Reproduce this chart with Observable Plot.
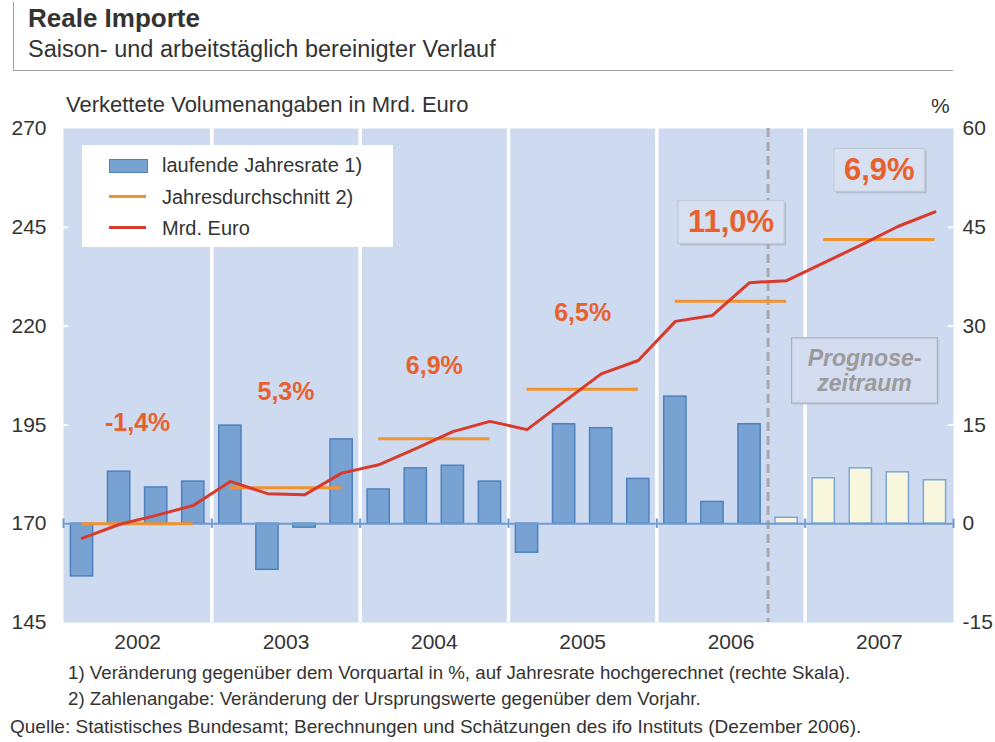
<!DOCTYPE html>
<html>
<head>
<meta charset="utf-8">
<script src="https://cdn.jsdelivr.net/npm/d3@7"></script>
<script src="https://cdn.jsdelivr.net/npm/@observablehq/plot@0.6"></script>
<style>
  html, body { margin: 0; padding: 0; background: #ffffff; }
  body { width: 995px; height: 742px; position: relative; overflow: hidden;
         font-family: "Liberation Sans", Arial, Helvetica, sans-serif; color: #333; }
  .abs { position: absolute; white-space: nowrap; line-height: 1.2; }
  #chart { position: absolute; left: 0; top: 0; }
  #titlebox { position: absolute; left: 13px; top: 2px; width: 939px; height: 68px;
              border-left: 1.5px solid #a0a0a0; border-bottom: 1.5px solid #a0a0a0; }
  #legend { position: absolute; left: 82px; top: 145px; width: 311px; height: 102px; background: #ffffff; }
  .sw { position: absolute; left: 27px; width: 37px; }
  .lt { position: absolute; left: 80px; font-size: 20px; line-height: 1.2; white-space: nowrap; color: #333; }
</style>
</head>
<body>
<div id="titlebox"></div>
<div class="abs" style="left:28px; top:3px; font-size:26px; font-weight:bold; color:#333;">Reale Importe</div>
<div class="abs" style="left:28px; top:35px; font-size:23.5px; color:#333;">Saison- und arbeitstäglich bereinigter Verlauf</div>
<div class="abs" style="left:66px; top:92px; font-size:22px; color:#333;">Verkettete Volumenangaben in Mrd. Euro</div>
<div class="abs" style="left:931px; top:93px; font-size:21px; color:#333;">%</div>
<div id="chart"></div>
<div id="legend">
  <div class="sw" style="top:14px; height:12px; background:#77a2d2; border:1px solid #4e82bf;"></div>
  <div class="lt" style="top:8px;">laufende Jahresrate 1)</div>
  <div class="sw" style="top:50px; height:3px; background:#f0932f;"></div>
  <div class="lt" style="top:40px;">Jahresdurchschnitt 2)</div>
  <div class="sw" style="top:81px; height:3px; background:#d83a2b;"></div>
  <div class="lt" style="top:71px;">Mrd. Euro</div>
</div>
<div class="abs" style="left:68px; top:662px; font-size:18.7px; color:#333;">1) Veränderung gegenüber dem Vorquartal in %, auf Jahresrate hochgerechnet (rechte Skala).</div>
<div class="abs" style="left:68px; top:688px; font-size:18.7px; color:#333;">2) Zahlenangabe: Veränderung der Ursprungswerte gegenüber dem Vorjahr.</div>
<div class="abs" style="left:10px; top:716px; font-size:19px; color:#333;">Quelle: Statistisches Bundesamt; Berechnungen und Schätzungen des ifo Instituts (Dezember 2006).</div>
<script>
// ---- data ----
const years = ["2002", "2003", "2004", "2005", "2006", "2007"];
// annualised quarter-on-quarter change, % (right scale)
const quarterRates = [-8.0, 7.9, 5.5, 6.4, 14.9, -7.0, -0.6, 12.8, 5.2, 8.4, 8.8, 6.4,
                      -4.4, 15.1, 14.5, 6.8, 19.3, 3.3, 15.1, 0.9, 6.9, 8.4, 7.8, 6.6];
const firstForecastQuarter = 19; // 2006 Q4 onward is forecast
// chained volume, bn Euro (left scale)
const volume = [166.3, 169.8, 172.1, 174.6, 180.7, 177.6, 177.3, 182.8, 184.9, 189.0, 193.3, 195.9,
                193.8, 200.9, 207.9, 211.3, 221.2, 222.7, 231.0, 231.5, 236.0, 240.5, 245.2, 248.9];
// annual average, bn Euro
const annualAverage = [170.0, 179.1, 191.5, 204.0, 226.3, 241.9];
// annual change labels
const annualChange = ["-1,4%", "5,3%", "6,9%", "6,5%", "11,0%", "6,9%"];
const annualLabelLevel = [195.4, 203.2, 210.0, 223.2, 246.2, 259.4];
const boxedLabel = [false, false, false, false, true, true];
const leftTicks = [145, 170, 195, 220, 245, 270];
const rightTicks = [-15, 0, 15, 30, 45, 60];
const forecastNote = "Prognose-\nzeitraum";
const forecastNoteAt = {x: 21.6, y: 208.8};

// ---- helpers ----
const pctToVol = p => 170 + p * 125 / 75;   // right scale mapped onto left scale
const volToPct = v => (v - 170) * 75 / 125;

const quarters = quarterRates.map((p, i) => ({
  i, p, v: volume[i], forecast: i >= firstForecastQuarter
}));
const annual = years.map((y, k) => ({
  k, year: y, avg: annualAverage[k], label: annualChange[k], level: annualLabelLevel[k], boxed: boxedLabel[k]
}));
const yearBounds = d3.range(1, years.length).map(k => k * 4);
const allBounds = d3.range(0, years.length + 1).map(k => k * 4);

const BG = "#cddaef";
const RED = "#d83a2b";
const ORANGE = "#f0932f";
const LABEL = "#e8612c";

const chart = Plot.plot({
  width: 995,
  height: 742,
  marginTop: 128,
  marginBottom: 120,
  marginLeft: 63,
  marginRight: 42,
  x: {domain: [0, years.length * 4]},
  y: {domain: [145, 270]},
  style: {fontFamily: "'Liberation Sans', Arial, Helvetica, sans-serif", fontSize: "21px", color: "#333", background: "transparent", overflow: "visible"},
  marks: [
    Plot.frame({fill: BG, stroke: null}),
    Plot.ruleX(yearBounds, {x: d => d, stroke: "#ffffff", strokeWidth: 3.5}),
    Plot.ruleY(leftTicks.slice(1, -1), {y: d => d, x1: 0, x2: 0.14, stroke: "#ffffff", strokeWidth: 2}),
    Plot.ruleY(leftTicks.slice(1, -1), {y: d => d, x1: years.length * 4 - 0.14, x2: years.length * 4, stroke: "#ffffff", strokeWidth: 2}),
    Plot.ruleX([firstForecastQuarter], {x: d => d, stroke: "#a9a9a9", strokeWidth: 3, strokeDasharray: "9,5"}),
    Plot.text([forecastNote], {x: () => forecastNoteAt.x, y: () => forecastNoteAt.y, text: d => d,
      fill: "#9b9b9b", fontSize: 23, fontWeight: "bold", fontStyle: "italic", lineHeight: 1.1}),
    Plot.rectY(quarters.filter(d => !d.forecast), {x1: d => d.i + 0.2, x2: d => d.i + 0.8, y1: 170, y2: d => pctToVol(d.p),
      fill: "#77a2d2", stroke: "#4e82bf", strokeWidth: 1.5}),
    Plot.rectY(quarters.filter(d => d.forecast), {x1: d => d.i + 0.2, x2: d => d.i + 0.8, y1: 170, y2: d => pctToVol(d.p),
      fill: "#f8f6dd", stroke: "#7ba7d6", strokeWidth: 1.5}),
    Plot.ruleY([170], {stroke: "#6f9bd0", strokeWidth: 2}),
    Plot.ruleX(allBounds, {x: d => d, y1: 168.8, y2: 171.2, stroke: "#6f9bd0", strokeWidth: 2}),
    Plot.ruleY(annual, {y: "avg", x1: d => d.k * 4 + 0.5, x2: d => d.k * 4 + 3.5, stroke: ORANGE, strokeWidth: 3}),
    Plot.line(quarters, {x: d => d.i + 0.5, y: "v", stroke: RED, strokeWidth: 3, strokeLinejoin: "round"}),
    Plot.text(annual.filter(d => !d.boxed), {x: d => d.k * 4 + 2, y: "level", text: "label",
      fill: LABEL, fontSize: 25, fontWeight: "bold"}),
    Plot.text(annual.filter(d => d.boxed), {x: d => d.k * 4 + 2, y: "level", text: "label",
      fill: LABEL, fontSize: 31, fontWeight: "bold"}),
    Plot.axisY(leftTicks, {anchor: "left", tickSize: 0, tickPadding: 17, fontSize: 21, label: null, fill: "#333"}),
    Plot.axisY(rightTicks.map(pctToVol), {anchor: "right", tickSize: 0, tickPadding: 9, fontSize: 21, label: null, fill: "#333",
      tickFormat: v => String(Math.round(volToPct(v)))}),
    Plot.axisX(annual.map(d => d.k * 4 + 2), {anchor: "bottom", tickSize: 0, tickPadding: 12, fontSize: 21, label: null, fill: "#333",
      tickFormat: v => years[(v - 2) / 4]})
  ]
});
document.getElementById("chart").appendChild(chart);

// boxes behind selected labels
const svgNS = "http://www.w3.org/2000/svg";
function boxBehind(t, padX, padY, fill, edgeLight, edgeDark) {
  const b = t.getBBox();
  const x = b.x - padX, y = b.y - padY, w = b.width + 2 * padX, h = b.height + 2 * padY;
  const shadow = document.createElementNS(svgNS, "rect");
  shadow.setAttribute("x", x + 2); shadow.setAttribute("y", y + 2);
  shadow.setAttribute("width", w); shadow.setAttribute("height", h);
  shadow.setAttribute("fill", edgeDark); shadow.setAttribute("opacity", "0.55");
  const r = document.createElementNS(svgNS, "rect");
  r.setAttribute("x", x); r.setAttribute("y", y);
  r.setAttribute("width", w); r.setAttribute("height", h);
  r.setAttribute("fill", fill); r.setAttribute("stroke", edgeLight); r.setAttribute("stroke-width", "1.2");
  if (t.getAttribute("transform")) {
    shadow.setAttribute("transform", t.getAttribute("transform"));
    r.setAttribute("transform", t.getAttribute("transform"));
  }
  const parent = t.parentNode;
  parent.insertBefore(shadow, t);
  parent.insertBefore(r, t);
}
chart.querySelectorAll("text").forEach(t => {
  const cs = getComputedStyle(t);
  if (cs.fontSize === "31px") boxBehind(t, 10, 4, "#d6e0f0", "#c3cad6", "#9aa6b8");
  else if (cs.fontStyle === "italic") boxBehind(t, 16, 7, "#d3ddef", "#a7afbb", "#bcc6d6");
});
</script>
</body>
</html>
